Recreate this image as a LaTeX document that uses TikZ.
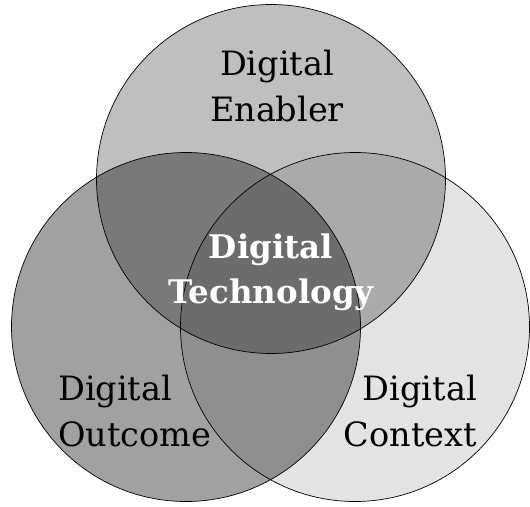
\documentclass[tikz,border=0pt]{standalone}
\usepackage{fontspec}
\setmainfont{DejaVu Serif}
\usepackage{tikz}
\tikzstyle{venn} = [circle, draw=black, line width=0.7pt, fill=black, minimum size=349pt, inner sep=0pt]
\tikzstyle{label} = [inner sep=0pt, font=\fontsize{33.5}{46}\selectfont]
\tikzstyle{core} = [inner sep=0pt, text=white, font=\fontsize{32.5}{45}\selectfont\bfseries, align=center]

\begin{document}
\begin{tikzpicture}[x=1pt, y=-1pt]
		\useasboundingbox (0,0) rectangle (530,506);
		\node [venn, fill opacity=0.25] (enabler) at (271,179) {};
		\node [venn, fill opacity=0.37] (outcome) at (186,327) {};
		\node [venn, fill opacity=0.11] (context) at (355,327) {};

		\node [label, align=center] (enablertext) at (277,86) {Digital\\Enabler};
		\node [label, align=left, anchor=west] (outcometext) at (58,411.5) {Digital\\Outcome};
		\node [label, align=right, anchor=east] (contexttext) at (477,411.5) {Digital\\Context};
		\node [core] (technology) at (271,272) {Digital\\Technology};
\end{tikzpicture}
\end{document}
